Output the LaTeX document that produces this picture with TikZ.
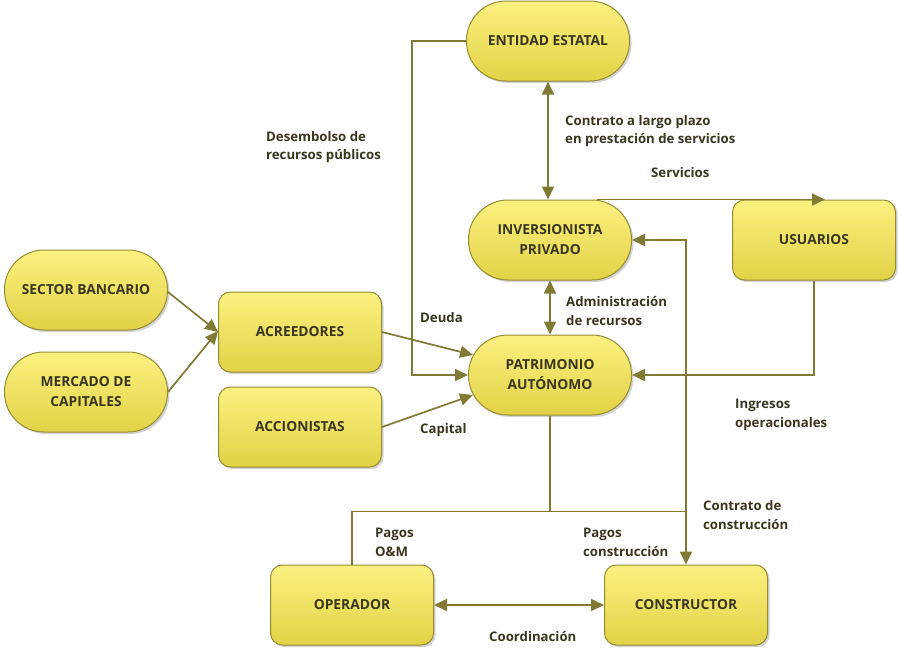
\documentclass[tikz,border=0pt]{standalone}
\usepackage{fontspec}
\setmainfont{Open Sans}
\usetikzlibrary{arrows.meta,shadows}
\definecolor{lineol}{RGB}{128,122,52}
\definecolor{edgeol}{RGB}{150,140,52}
\definecolor{txt}{RGB}{58,54,30}
\definecolor{ytop}{RGB}{251,241,128}
\definecolor{ybot}{RGB}{226,210,70}
\begin{document}
\begin{tikzpicture}[x=1pt,y=-1pt,
  box/.style={draw=edgeol, line width=1pt, top color=ytop, bottom color=ybot,
    drop shadow={opacity=0.35,shadow xshift=2pt,shadow yshift=-2pt},
    font=\bfseries\fontsize{13.8}{20}\selectfont, text=txt, align=center,
    inner sep=0pt, minimum height=80pt, minimum width=163pt},
  pill/.style={box, rounded corners=39.5pt},
  rbox/.style={box, rounded corners=12pt},
  conn/.style={draw=lineol, line width=1.7pt},
  tip/.style={-{Triangle[length=13pt,width=12pt]}},
  tips/.style={{Triangle[length=13pt,width=12pt]}-{Triangle[length=13pt,width=12pt]}},
  lab/.style={font=\bfseries\fontsize{13.2}{18.8}\selectfont, text=txt, align=left, anchor=west, inner sep=0pt}
]
\useasboundingbox (0,0) rectangle (899,649);
\fill[white] (0,0) rectangle (899,649);

\node[pill] (ent) at (548,41) {ENTIDAD ESTATAL};
\node[pill] (inv) at (550,240) {INVERSIONISTA\\PRIVADO};
\node[pill] (pat) at (550,375) {PATRIMONIO\\AUTÓNOMO};
\node[rbox] (usu) at (814,240) {USUARIOS};
\node[pill] (sec) at (86,290) {SECTOR BANCARIO};
\node[pill] (mer) at (86,392) {MERCADO DE\\CAPITALES};
\node[rbox] (acr) at (300,332) {ACREEDORES};
\node[rbox] (acc) at (300,427) {ACCIONISTAS};
\node[rbox] (ope) at (352,605) {OPERADOR};
\node[rbox] (con) at (686,605) {CONSTRUCTOR};

% connectors
\draw[conn,tips] (ent.south) -- (ent.south |- inv.north);
\draw[conn,tip] (ent.west) -- ++(-54,0) |- (pat.west);
\draw[conn,tip] ([xshift=-35pt]inv.north east) -- ([xshift=11pt]usu.north);
\draw[conn,tip] (usu.south) |- (pat.east);
\draw[conn,tips] (inv.east) -| (con.north);
\draw[conn,tips] (inv.south) -- (pat.north);
\draw[conn] (pat.south) -- ++(0,96) coordinate (j);
\draw[conn] (ope.north) |- (con.north |- j);
\draw[conn,tips] (ope.east) -- (con.west);
\draw[conn,tip] ([yshift=-2pt]sec.east) -- (acr.west);
\draw[conn,tip] (mer.east) -- ([yshift=1pt]acr.west);
\draw[conn,tip] (acr.east) -- ([shift={(5,-20)}]pat.west);
\draw[conn,tip] (acc.east) -- ([shift={(5,20)}]pat.west);

% labels
\node[lab] (l1) at (565,131) {Contrato a largo plazo\\en prestación de servicios};
\node[lab] (l2) at (266,147) {Desembolso de\\recursos públicos};
\node[lab] (l3) at (651,173) {Servicios};
\node[lab] (l4) at (420,318) {Deuda};
\node[lab] (l5) at (566,311) {Administración\\de recursos};
\node[lab] (l6) at (420,430) {Capital};
\node[lab] (l7) at (735,415) {Ingresos\\operacionales};
\node[lab] (l8) at (703,515) {Contrato de\\construcción};
\node[lab] (l9) at (375,542) {Pagos\\O\&M};
\node[lab] (l10) at (583,542) {Pagos\\construcción};
\node[lab] (l11) at (489,636) {Coordinación};
\end{tikzpicture}
\end{document}
